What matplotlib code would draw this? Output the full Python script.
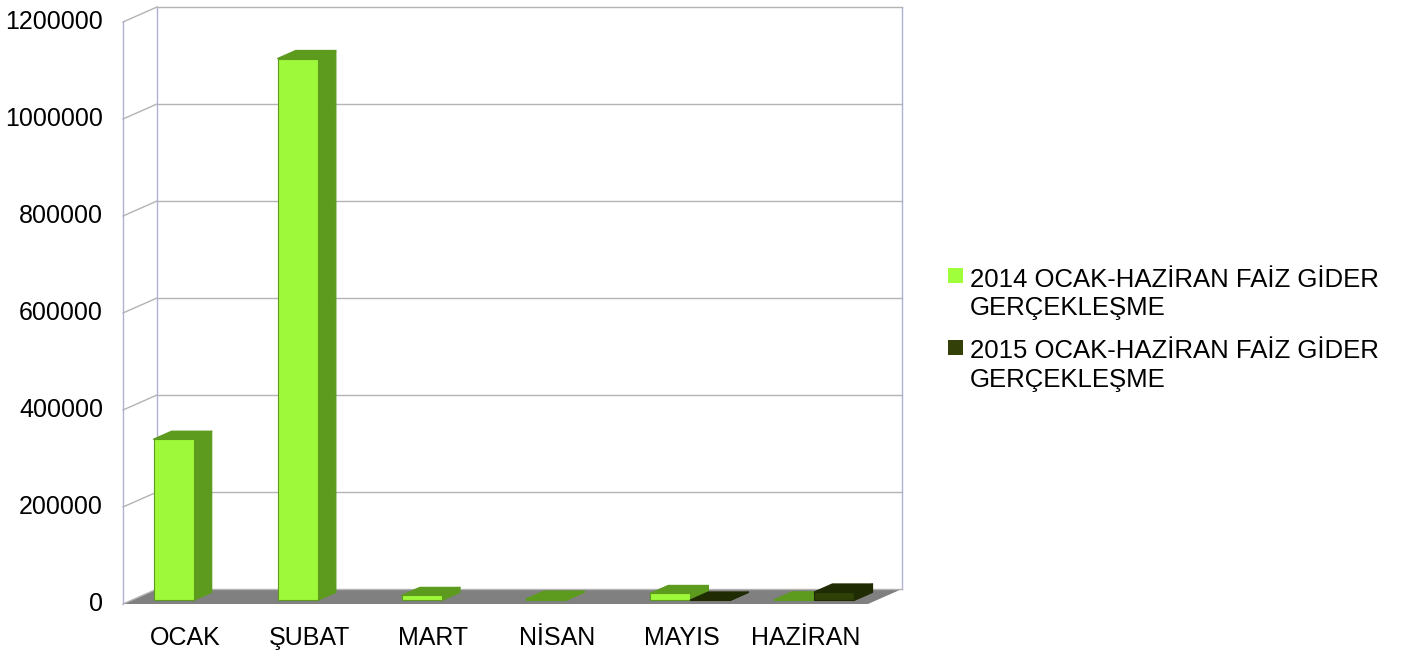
import matplotlib
matplotlib.use("Agg")
import matplotlib.pyplot as plt
from matplotlib.patches import Polygon, Rectangle

# data
months = ["OCAK", "ŞUBAT", "MART", "NİSAN", "MAYIS", "HAZİRAN"]
faiz_2014 = [332000, 1117000, 10000, 2500, 14000, 1000]
faiz_2015 = [None, None, None, None, 400, 17000]
series_names = ["2014 OCAK-HAZİRAN FAİZ GİDER", "2015 OCAK-HAZİRAN FAİZ GİDER"]
y_ticks = [0, 200000, 400000, 600000, 800000, 1000000, 1200000]

# colours: (front, side/top)
colors = [("#9ef93a", "#5d9b1f"), ("#2f4106", "#1f2b02")]
legend_colors = ["#9eff3a", "#334008"]

plt.rcParams["font.family"] = ["Liberation Sans", "DejaVu Sans"]
FS = 18
FS_LEG = 18.5

W, H = 1412, 656
fig = plt.figure(figsize=(W / 100, H / 100), dpi=100)
ax = fig.add_axes([0, 0, 1, 1])
ax.axis("off")

# pixel layout of the front plane
px_x0 = 123
px_cat = 745 / len(months)
py0 = 604
py_per_unit = 582 / 1200000
ax.set_xlim(-px_x0 / px_cat, (W - px_x0) / px_cat)
ax.set_ylim(-(H - py0) / py_per_unit, py0 / py_per_unit)

# oblique depth offset
DX = 34 / px_cat
DY = 15 / py_per_unit


def proj(x, y, z):
    return (x + z * DX, y + z * DY)


n = len(months)
ymax = y_ticks[-1]

# floor
ax.add_patch(Polygon([proj(0, 0, 0), proj(n, 0, 0), proj(n, 0, 1), proj(0, 0, 1)],
                     closed=True, facecolor="#808080", edgecolor="none", zorder=1))

# walls and grid
for t in y_ticks:
    a, b = proj(0, t, 0), proj(0, t, 1)
    ax.plot([a[0], b[0]], [a[1], b[1]], color="#b3b3b3", lw=1, zorder=2)
    c = proj(n, t, 1)
    ax.plot([b[0], c[0]], [b[1], c[1]], color="#b3b3b3", lw=1, zorder=2)
for (x, z) in [(0, 0), (0, 1), (n, 1)]:
    a, b = proj(x, 0, z), proj(x, ymax, z)
    ax.plot([a[0], b[0]], [a[1], b[1]], color="#b0b0d2", lw=1, zorder=2)

# bars
bw = 40 / px_cat
margin = (1 - 2 * bw) / 2
z0, z1 = 0.25, 0.78
zo = 3
for i in range(n):
    for s, vals in enumerate([faiz_2014, faiz_2015]):
        v = vals[i]
        if v is None:
            continue
        front_c, side_c = colors[s]
        xl = i + margin + s * bw
        xr = xl + bw
        side = [proj(xr, 0, z0), proj(xr, 0, z1), proj(xr, v, z1), proj(xr, v, z0)]
        top = [proj(xl, v, z0), proj(xr, v, z0), proj(xr, v, z1), proj(xl, v, z1)]
        front = [proj(xl, 0, z0), proj(xr, 0, z0), proj(xr, v, z0), proj(xl, v, z0)]
        ax.add_patch(Polygon(side, closed=True, facecolor=side_c, edgecolor=side_c,
                             lw=1, joinstyle="round", zorder=zo))
        ax.add_patch(Polygon(top, closed=True, facecolor=side_c, edgecolor=side_c,
                             lw=1, joinstyle="round", zorder=zo))
        ax.add_patch(Polygon(front, closed=True, facecolor=front_c, edgecolor=side_c,
                             lw=0.8, joinstyle="round", zorder=zo + 0.5))
        zo += 1

# y tick labels
for t in y_ticks:
    ax.text((103 - px_x0) / px_cat, t, f"{t}", ha="right", va="center",
            fontsize=FS, color="black")

# category labels
for i, m in enumerate(months):
    ax.text(i + 0.5, -34 / py_per_unit, m, ha="center", va="center",
            fontsize=FS, color="black")

# legend
legend_rows = [(268, 280, 307.5), (340, 351, 380)]
for (sq_y, y1, y2), name, col in zip(legend_rows, series_names, legend_colors):
    fig.patches.append(Rectangle((948 / W, 1 - (sq_y + 15) / H), 15 / W, 15 / H,
                                 transform=fig.transFigure, facecolor=col,
                                 edgecolor="none"))
    fig.text(970 / W, 1 - y1 / H, name, ha="left", va="center", fontsize=FS_LEG)
    fig.text(970 / W, 1 - y2 / H, "GERÇEKLEŞME", ha="left", va="center",
             fontsize=FS_LEG)

fig.savefig("out.png", dpi=100, facecolor="white")
plt.close(fig)
